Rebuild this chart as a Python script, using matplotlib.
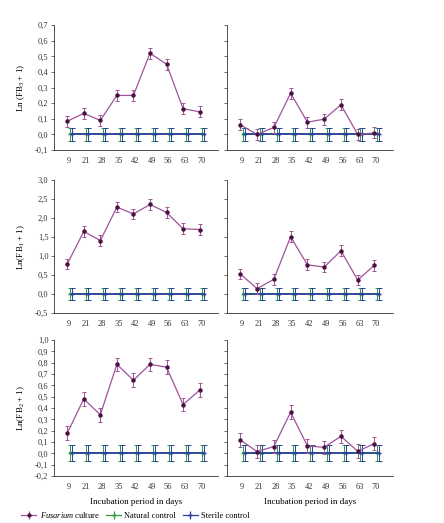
import numpy as np
import matplotlib
matplotlib.use('Agg')
import matplotlib.pyplot as plt
from matplotlib.ticker import FuncFormatter

days = ['9', '21', '28', '35', '42', '49', '56', '63', '70']

# Fusarium culture means, one list per panel (row, column)
fus_top_left = [0.085, 0.135, 0.09, 0.25, 0.25, 0.52, 0.45, 0.165, 0.145]
fus_top_right = [0.062, 0.0, 0.045, 0.264, 0.079, 0.098, 0.19, 0.0, 0.01]
fus_mid_left = [0.79, 1.65, 1.41, 2.29, 2.11, 2.36, 2.15, 1.72, 1.70]
fus_mid_right = [0.53, 0.14, 0.39, 1.51, 0.77, 0.71, 1.14, 0.37, 0.76]
fus_bot_left = [0.177, 0.48, 0.34, 0.785, 0.645, 0.785, 0.76, 0.43, 0.557]
fus_bot_right = [0.118, 0.015, 0.06, 0.363, 0.065, 0.053, 0.15, 0.018, 0.086]

# error half widths per row
fus_err = [0.035, 0.14, 0.06]
ctrl_err = [0.04, 0.15, 0.07]

ylims = [(-0.1, 0.7), (-0.5, 3.0), (-0.2, 1.0)]
ysteps = [0.1, 0.5, 0.1]
ylabels = ['Ln (FB$_3$ + 1)', 'Ln(FB$_1$ + 1)', 'Ln(FB$_2$ + 1)']

data = [[fus_top_left, fus_top_right],
        [fus_mid_left, fus_mid_right],
        [fus_bot_left, fus_bot_right]]

plt.rcParams['font.family'] = ['Liberation Serif', 'DejaVu Serif']
plt.rcParams['font.size'] = 6
plt.rcParams['mathtext.fontset'] = 'custom'
plt.rcParams['mathtext.rm'] = 'Liberation Serif'
plt.rcParams['mathtext.it'] = 'Liberation Serif:italic'

fus_line = '#a0529a'
fus_mark = '#4a1040'
nat_col = '#2e9a4a'
ster_col = '#2c3e9c'

fig = plt.figure(figsize=(4.44, 5.23), dpi=100)

rows = [(0.713, 0.239), (0.4015, 0.254), (0.0899, 0.26)]
cols = [(0.1216, 0.369), (0.511, 0.374)]

x = np.arange(len(days))
comma = FuncFormatter(lambda v, p: ('%.1f' % v).replace('.', ','))

axes_bottom = []
for r, (bottom, height) in enumerate(rows):
    for c, (left, width) in enumerate(cols):
        ax = fig.add_axes([left, bottom, width, height])
        fus = np.array(data[r][c])
        zeros = np.zeros(len(days))
        ax.errorbar(x + 0.06, zeros, yerr=ctrl_err[r], color=nat_col, lw=1.2,
                    elinewidth=0.7, capsize=1.8, capthick=0.7,
                    marker='+', ms=3, zorder=2)
        ax.errorbar(x + 0.18, zeros, yerr=ctrl_err[r], color=ster_col, lw=1.2,
                    elinewidth=0.7, capsize=1.8, capthick=0.7,
                    marker='+', ms=3, zorder=3)
        ax.errorbar(x - 0.1, fus, yerr=fus_err[r], color=fus_line, lw=0.9,
                    elinewidth=0.7, capsize=1.2, capthick=0.7,
                    marker='o', ms=2.2, mfc=fus_mark, mec=fus_mark, zorder=4)
        lo, hi = ylims[r]
        ax.set_ylim(lo, hi)
        ax.set_xlim(-0.9, 9.0)
        ax.set_yticks(np.arange(lo, hi + 1e-9, ysteps[r]))
        ax.yaxis.set_major_formatter(comma)
        ax.set_xticks(x)
        ax.set_xticklabels(days)
        for s in ['top', 'right']:
            ax.spines[s].set_visible(False)
        for s in ['left', 'bottom']:
            ax.spines[s].set_linewidth(0.6)
            ax.spines[s].set_color('#333333')
        ax.tick_params(axis='both', length=2, width=0.5, pad=2,
                       colors='#333333', labelsize=6)
        ax.tick_params(axis='x', length=0, pad=5)
        if c == 0:
            ax.set_ylabel(ylabels[r], fontsize=6.5, labelpad=6)
        else:
            ax.set_yticklabels([])
        if r == 2:
            ax.set_xlabel('Incubation period in days', fontsize=6.5, labelpad=5)
            axes_bottom.append(ax)

h1 = axes_bottom[0].errorbar([], [], yerr=[], color=fus_line, marker='o', ms=2,
                             mfc=fus_mark, mec=fus_mark, capsize=2, lw=0.9)
h2 = axes_bottom[0].errorbar([], [], yerr=[], color=nat_col, marker='+', ms=3,
                             capsize=2, lw=0.9)
h3 = axes_bottom[0].errorbar([], [], yerr=[], color=ster_col, marker='+', ms=3,
                             capsize=2, lw=0.9)
fig.legend([h1, h2, h3],
           ['$\\it{Fusarium}$ culture', 'Natural control', 'Sterile control'],
           loc='lower left', bbox_to_anchor=(0.035, -0.005), ncol=3,
           frameon=False, fontsize=6, handlelength=1.8, columnspacing=0.8,
           handletextpad=0.4, borderaxespad=0.3)

fig.savefig('out.png', dpi=100)
